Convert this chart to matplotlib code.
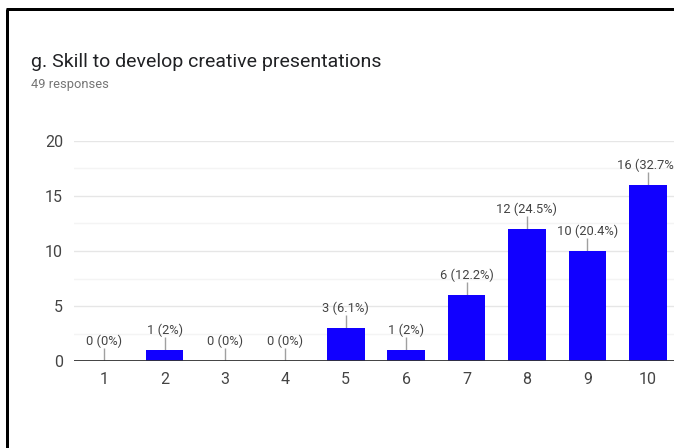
import matplotlib
matplotlib.use("Agg")
import matplotlib.pyplot as plt
from matplotlib.lines import Line2D

plt.rcParams['font.family'] = ['Roboto', 'DejaVu Sans']

# Survey results: rating 1-10, number of responses
categories = ['1', '2', '3', '4', '5', '6', '7', '8', '9', '10']
counts = [0, 1, 0, 0, 3, 1, 6, 12, 10, 16]
percent_labels = ['0%', '2%', '0%', '0%', '6.1%', '2%', '12.2%', '24.5%', '20.4%', '32.7%']
y_ticks = [0, 5, 10, 15, 20]
title = 'g. Skill to develop creative presentations'
subtitle = '49 responses'

W, H = 674, 448
DPI = 100
fig = plt.figure(figsize=(W / DPI, H / DPI), dpi=DPI)
fig.patch.set_facecolor('white')

# plot area in pixel terms (right edge runs slightly past the canvas)
left_px, right_px = 74, 678
top_px, bottom_px = 141, 361
ax = fig.add_axes([left_px / W, 1 - bottom_px / H,
                   (right_px - left_px) / W, (bottom_px - top_px) / H])

x = list(range(1, len(categories) + 1))
ax.bar(x, counts, width=0.62, color='#1100ff', zorder=3)

ax.set_xlim(0.5, 10.5)
ax.set_ylim(0, 20)

# gridlines: major every 5, faint minor every 2.5
for yv in [2.5, 7.5, 12.5, 17.5]:
    ax.axhline(yv, color='#f4f4f4', lw=1, zorder=1)
for yv in [5, 10, 15, 20]:
    ax.axhline(yv, color='#e6e6e6', lw=1, zorder=1)
ax.axhline(0, color='#333333', lw=1.3, zorder=4)

for s in ax.spines.values():
    s.set_visible(False)

ax.set_xticks(x)
ax.set_xticklabels(categories)
ax.set_yticks(y_ticks)
ax.tick_params(axis='both', length=0, labelsize=11.5, colors='#444444')
ax.tick_params(axis='x', pad=8)
ax.tick_params(axis='y', pad=8)

# value annotations with short leader lines
for xi, c, p in zip(x, counts, percent_labels):
    ax.plot([xi, xi], [c, c + 1.2], color='#a0a0a0', lw=1, zorder=2,
            solid_capstyle='butt')
    ax.text(xi, c + 1.75, f'{c} ({p})', ha='center', va='center',
            fontsize=9.3, color='#444444', zorder=5)

fig.text(31 / W, 1 - 67 / H, title, fontsize=14, color='#202124',
         ha='left', va='baseline')
fig.text(31 / W, 1 - 88 / H, subtitle, fontsize=9.3, color='#757575',
         ha='left', va='baseline')

# frame edges along the top and left
lw_pt = 3 * 72 / DPI
fig.add_artist(Line2D([7 / W, 7 / W], [0, 1 - 9 / H], color='black', lw=lw_pt,
                      transform=fig.transFigure, solid_capstyle='butt'))
fig.add_artist(Line2D([5.5 / W, 1.01], [1 - 9 / H, 1 - 9 / H], color='black',
                      lw=lw_pt, transform=fig.transFigure, solid_capstyle='butt'))

fig.savefig('out.png', dpi=DPI, facecolor='white')
